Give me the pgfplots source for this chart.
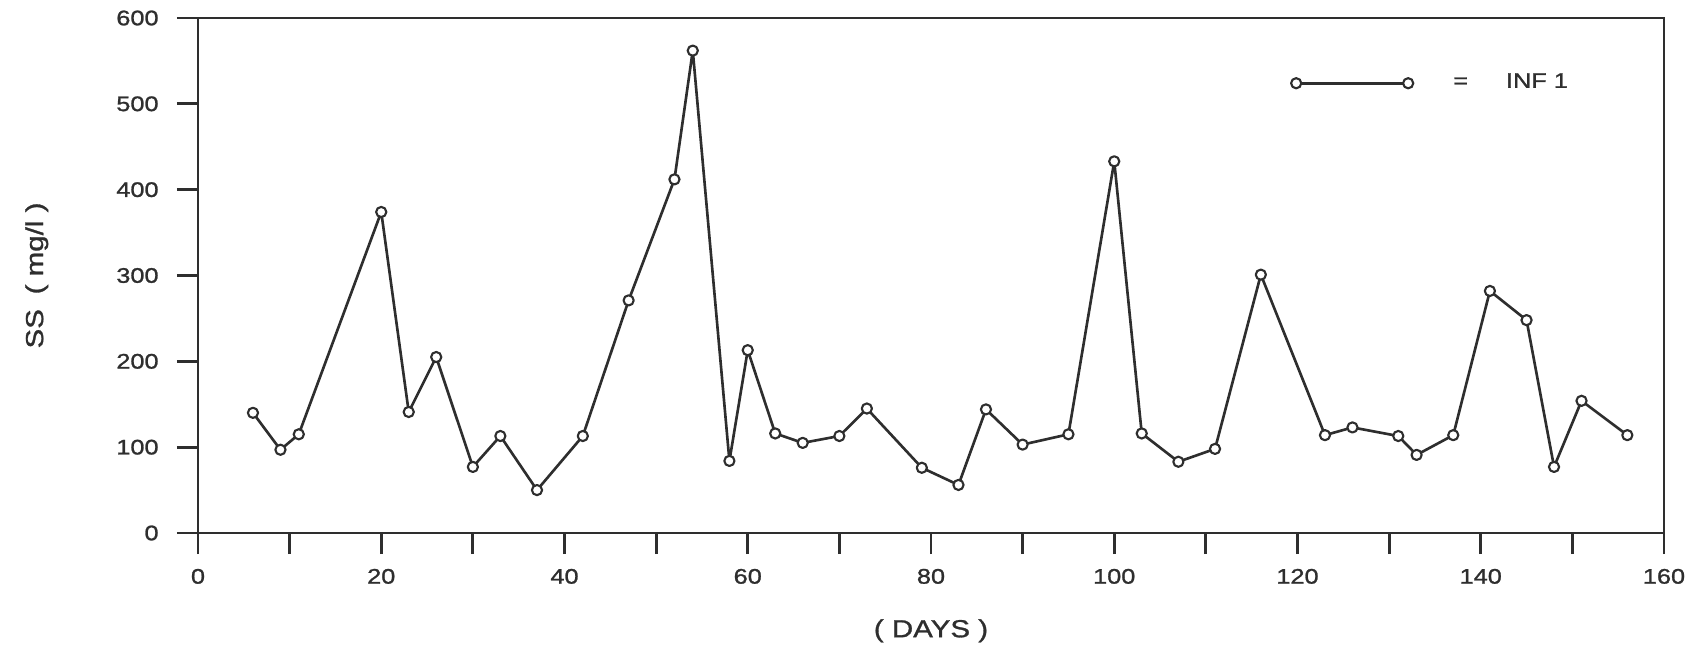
\documentclass[border=0pt]{standalone}
\usepackage{fontspec}
\setmainfont{Liberation Sans}[FakeStretch=1.2, FakeBold=1.2]
\usepackage{pgfplots}
\pgfplotsset{compat=1.18}
\definecolor{ink}{gray}{0.18}
\begin{document}
\begin{tikzpicture}
\begin{axis}[
  scale only axis,
  width=146.6mm, height=51.5mm,
  xmin=0, xmax=160, ymin=0, ymax=600,
  axis line style={ink, line width=0.85pt},
  every tick/.style={ink, line width=0.85pt},
  tick align=outside,
  tick pos=left,
  xtick={0,20,...,160},
  minor xtick={10,30,...,150},
  ytick={0,100,...,600},
  major tick length=2.1mm,
  minor tick length=2.1mm,
  /pgf/number format/assume math mode=true,
  tick label style={font=\fontsize{6}{7}\selectfont, text=ink},
  xticklabel style={yshift=-0.25mm},
  yticklabel style={xshift=-0.6mm},
  xlabel={( DAYS )},
  ylabel={SS\hspace{0.6em}( mg/l )},
  xlabel style={font=\fontsize{7}{8}\selectfont, text=ink,
    at={(axis description cs:0.5,-0.19)}, anchor=center},
  ylabel style={font=\fontsize{7}{8}\selectfont, text=ink,
    at={(axis description cs:-0.11,0.5)}, anchor=center, rotate=0},
  legend style={at={(axis cs:119.3,524)}, anchor=west, draw=none,
    fill=none, inner sep=0pt, outer sep=0pt,
    font=\fontsize{6}{7}\selectfont, text=ink,
    nodes={inner sep=0pt}},
  legend image code/.code={%
    \draw[#1] plot coordinates {(0mm,0mm) (11.2mm,0mm)};},
]
\addplot[ink, line width=0.75pt, line join=round, mark=*, mark size=1.45pt,
  mark options={fill=white, line width=0.6pt}]
coordinates {
  (6,140) (9,97) (11,115) (20,374) (23,141) (26,205) (30,77)
  (33,113) (37,50) (42,113) (47,271) (52,412) (54,562) (58,84)
  (60,213) (63,116) (66,105) (70,113) (73,145) (79,76) (83,56)
  (86,144) (90,103) (95,115) (100,433) (103,116) (107,83) (111,98)
  (116,301) (123,114) (126,123) (131,113) (133,91) (137,114)
  (141,282) (145,248) (148,77) (151,154) (156,114)
};
\addlegendentry{\hspace{4.0mm}=\hspace{3.8mm}INF 1}
\end{axis}
\pgfresetboundingbox
\path[use as bounding box] (-19.8mm,-11.6mm) rectangle (150.1mm,53.3mm);
\end{tikzpicture}
\end{document}
